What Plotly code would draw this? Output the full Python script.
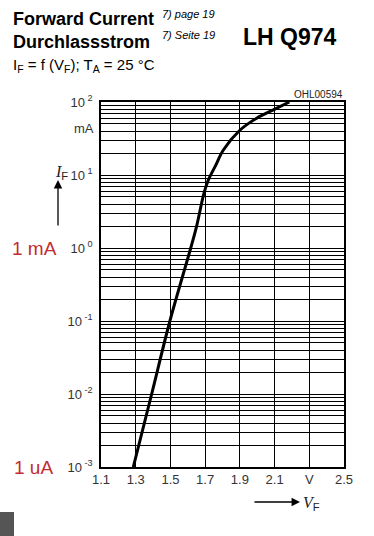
import plotly.graph_objects as go

# Data
vf_volts = [1.286, 1.392, 1.497, 1.617, 1.651, 1.693, 1.718, 1.757, 1.805, 1.90, 1.997, 2.093, 2.185]
if_mA = [0.001, 0.01, 0.1, 1.0, 2.0, 5.6, 8.5, 13.0, 22.0, 41.0, 60.0, 78.0, 100.0]

x_tick_vals = [1.1, 1.3, 1.5, 1.7, 1.9, 2.1, 2.3, 2.5]
x_tick_text = ["1.1", "1.3", "1.5", "1.7", "1.9", "2.1", "V", "2.5"]
y_decades = [-3, -2, -1, 0, 1, 2]
y_tick_text = ["10<sup> -3</sup>", "10<sup> -2</sup>", "10<sup> -1</sup>", "10<sup> 0</sup>", "10<sup> 1</sup>", "10<sup> 2</sup>"]

W, H = 374, 536
L, R, T, B = 101, 30, 102, 69
PW, PH = W - L - R, H - T - B

def px(x):
    return (x - L) / PW

def py(y):
    return (H - B - y) / PH

# build log tick positions (labels only at decades)
tickvals, ticktext = [], []
for i, d in enumerate(y_decades):
    tickvals.append(10 ** d)
    ticktext.append(y_tick_text[i])
    if d < y_decades[-1]:
        for m in range(2, 10):
            tickvals.append(m * 10 ** d)
            ticktext.append("")

fig = go.Figure()
fig.add_trace(go.Scatter(x=vf_volts, y=if_mA, mode="lines",
                         line=dict(color="black", width=3, shape="spline", smoothing=1.0),
                         showlegend=False, hoverinfo="skip"))

fig.update_xaxes(range=[1.1, 2.5], tickvals=x_tick_vals, ticktext=x_tick_text,
                 showgrid=True, gridcolor="black", gridwidth=1,
                 showline=True, linecolor="black", linewidth=1.5, mirror=True,
                 ticks="", zeroline=False, ticklabelstandoff=0,
                 tickfont=dict(family="Liberation Sans, Arial", size=13, color="#333"))
fig.update_yaxes(type="log", range=[-3, 2], tickvals=tickvals, ticktext=ticktext,
                 showgrid=True, gridcolor="black", gridwidth=1,
                 showline=True, linecolor="black", linewidth=1.5, mirror=True,
                 ticks="", zeroline=False, ticklabelstandoff=4,
                 tickfont=dict(family="Liberation Sans, Arial", size=13, color="#333"))

ann = []
def text(x, y, s, size, color="black", bold=False, italic=False, xanchor="left", family="Liberation Sans, Arial"):
    if bold:
        s = "<b>" + s + "</b>"
    if italic:
        s = "<i>" + s + "</i>"
    ann.append(dict(x=px(x), y=py(y), xref="paper", yref="paper", text=s, showarrow=False,
                    xanchor=xanchor, yanchor="middle",
                    font=dict(family=family, size=size, color=color)))

text(11, 19, "Forward Current", 18, bold=True)
text(11, 42, "Durchlassstrom", 18, bold=True)
text(11, 65, "I<sub>F</sub> = f (V<sub>F</sub>); T<sub>A</sub> = 25 °C", 15)
text(160, 14, "7) page 19", 11, italic=True)
text(160, 35, "7) Seite 19", 11, italic=True)
text(241, 37, "LH Q974", 23, bold=True)
text(345, 94, "OHL00594", 10, color="#222", xanchor="right")
text(96, 128, "mA", 13, color="#333", xanchor="right")
text(53, 172, "<i>I</i><span style='font-family:Liberation Sans'><sub>F</sub></span>", 16,
     color="#222", family="Liberation Serif, Times New Roman")
text(10, 248, "1 mA", 19, color="#c42b32")
text(12, 467, "1 uA", 19, color="#c42b32")
text(301, 503, "<i>V</i><span style='font-family:Liberation Sans'><sub>F</sub></span>", 16,
     color="#222", family="Liberation Serif, Times New Roman")

# arrows
ann.append(dict(x=px(58), y=py(180), xref="paper", yref="paper", axref="pixel", ayref="pixel",
                ax=0, ay=47, showarrow=True, arrowhead=2, arrowsize=1.3,
                arrowwidth=1.3, arrowcolor="black", text=""))
ann.append(dict(x=px(300), y=py(502), xref="paper", yref="paper", axref="pixel", ayref="pixel",
                ax=-47, ay=0, showarrow=True, arrowhead=2, arrowsize=1.3,
                arrowwidth=1.3, arrowcolor="black", text=""))
fig.update_layout(annotations=ann)

# gray box bottom left
fig.add_shape(type="rect", xref="paper", yref="paper", x0=px(0), x1=px(14), y0=py(536), y1=py(512),
              fillcolor="#555", line=dict(width=0))

fig.update_layout(width=W, height=H, margin=dict(l=L, r=R, t=T, b=B),
                  paper_bgcolor="white", plot_bgcolor="white")
fig.write_html("out.html", config={"displayModeBar": False},
               post_script="document.body.style.margin='0';document.body.style.overflow='hidden';")
